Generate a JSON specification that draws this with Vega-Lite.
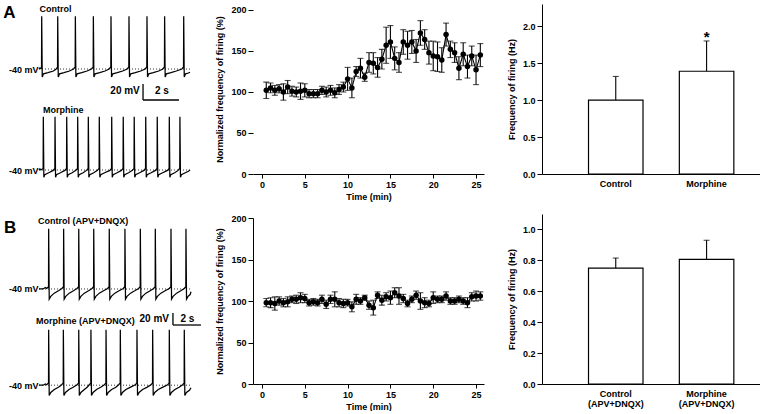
{
"$schema": "https://vega.github.io/schema/vega-lite/v6.json",
"background": "white",
"padding": {"left": 3, "top": 3, "right": 0, "bottom": 0},
"config": {
  "font": "Liberation Sans",
  "view": {"stroke": null},
  "axis": {"labelFont": "Liberation Sans", "labelFontSize": 9, "labelFontWeight": "bold", "labelColor": "black", "titleFont": "Liberation Sans", "titleFontSize": 9, "titleFontWeight": "bold", "titleColor": "black", "domainColor": "black", "tickColor": "black", "grid": false, "labelOverlap": false},
  "text": {"font": "Liberation Sans", "fontWeight": "bold", "fontSize": 9, "color": "black"}
},
"datasets": {
  "Ac": [
    {"t":0,"v":-40},{"t":0.05,"v":-38.5},{"t":0.1,"v":-39.5},{"t":0.14,"v":-38},
    {"t":0.15,"v":26},{"t":0.18,"v":-50},{"t":0.25,"v":-46},{"t":0.5,"v":-44.5},{"t":0.8,"v":-42.5},{"t":0.94,"v":-40.5},{"t":1.03,"v":-37.5},
    {"t":1.04,"v":26},{"t":1.07,"v":-50},{"t":1.14,"v":-46},{"t":1.39,"v":-44.5},{"t":1.69,"v":-42.5},{"t":1.92,"v":-40},{"t":2.01,"v":-37.5},
    {"t":2.02,"v":26},{"t":2.05,"v":-50},{"t":2.12,"v":-46},{"t":2.37,"v":-44.5},{"t":2.67,"v":-42.5},{"t":2.92,"v":-40},{"t":3.01,"v":-37.5},
    {"t":3.02,"v":26},{"t":3.05,"v":-50},{"t":3.12,"v":-46},{"t":3.37,"v":-44.5},{"t":3.67,"v":-42.5},{"t":3.9,"v":-40},{"t":3.99,"v":-37.5},
    {"t":4.0,"v":26},{"t":4.03,"v":-50},{"t":4.1,"v":-46},{"t":4.35,"v":-44.5},{"t":4.65,"v":-42.5},{"t":4.9,"v":-40},{"t":4.99,"v":-37.5},
    {"t":5.0,"v":26},{"t":5.03,"v":-50},{"t":5.1,"v":-46},{"t":5.35,"v":-44.5},{"t":5.65,"v":-42.5},{"t":5.9,"v":-40},{"t":5.99,"v":-37.5},
    {"t":6.0,"v":26},{"t":6.03,"v":-50},{"t":6.1,"v":-46},{"t":6.35,"v":-44.5},{"t":6.65,"v":-42.5},{"t":6.88,"v":-40},{"t":6.97,"v":-37.5},
    {"t":6.98,"v":26},{"t":7.01,"v":-50},{"t":7.08,"v":-46},{"t":7.33,"v":-44.5},{"t":7.63,"v":-42.5},{"t":7.94,"v":-40},{"t":8.03,"v":-37.5},
    {"t":8.04,"v":26},{"t":8.07,"v":-50},{"t":8.14,"v":-46},{"t":8.3,"v":-45},{"t":8.39,"v":-44}
  ],
  "Am": [
    {"t":0,"v":-40},{"t":0.05,"v":-38.5},{"t":0.1,"v":-40},{"t":0.23,"v":-38},
    {"t":0.24,"v":26.5},{"t":0.27,"v":-49},{"t":0.32,"v":-46},{"t":0.54,"v":-43.5},{"t":0.79,"v":-40.5},{"t":0.88,"v":-38},
    {"t":0.89,"v":26.5},{"t":0.92,"v":-49},{"t":0.97,"v":-46},{"t":1.19,"v":-43.5},{"t":1.44,"v":-40.5},{"t":1.53,"v":-38},
    {"t":1.54,"v":26.5},{"t":1.57,"v":-49},{"t":1.62,"v":-46},{"t":1.84,"v":-43.5},{"t":2.05,"v":-40.5},{"t":2.14,"v":-38},
    {"t":2.15,"v":26.5},{"t":2.18,"v":-49},{"t":2.23,"v":-46},{"t":2.45,"v":-43.5},{"t":2.64,"v":-40.5},{"t":2.73,"v":-38},
    {"t":2.74,"v":26.5},{"t":2.77,"v":-49},{"t":2.82,"v":-46},{"t":3.04,"v":-43.5},{"t":3.25,"v":-40.5},{"t":3.34,"v":-38},
    {"t":3.35,"v":26.5},{"t":3.38,"v":-49},{"t":3.43,"v":-46},{"t":3.65,"v":-43.5},{"t":3.94,"v":-40.5},{"t":4.03,"v":-38},
    {"t":4.04,"v":26.5},{"t":4.07,"v":-49},{"t":4.12,"v":-46},{"t":4.34,"v":-43.5},{"t":4.58,"v":-40.5},{"t":4.67,"v":-38},
    {"t":4.68,"v":26.5},{"t":4.71,"v":-49},{"t":4.76,"v":-46},{"t":4.98,"v":-43.5},{"t":5.19,"v":-40.5},{"t":5.28,"v":-38},
    {"t":5.29,"v":26.5},{"t":5.32,"v":-49},{"t":5.37,"v":-46},{"t":5.59,"v":-43.5},{"t":5.83,"v":-40.5},{"t":5.92,"v":-38},
    {"t":5.93,"v":26.5},{"t":5.96,"v":-49},{"t":6.01,"v":-46},{"t":6.23,"v":-43.5},{"t":6.47,"v":-40.5},{"t":6.56,"v":-38},
    {"t":6.57,"v":26.5},{"t":6.6,"v":-49},{"t":6.65,"v":-46},{"t":6.87,"v":-43.5},{"t":7.14,"v":-40.5},{"t":7.23,"v":-38},
    {"t":7.24,"v":26.5},{"t":7.27,"v":-49},{"t":7.32,"v":-46},{"t":7.54,"v":-43.5},{"t":7.73,"v":-40.5},{"t":7.82,"v":-38},
    {"t":7.83,"v":26.5},{"t":7.86,"v":-49},{"t":7.91,"v":-46},{"t":8.13,"v":-43.5},{"t":8.3,"v":-41.5},{"t":8.39,"v":-40}
  ],
  "Bc": [
    {"t":0,"v":-40},{"t":0.3,"v":-40},{"t":0.45,"v":-38.5},{"t":0.55,"v":-39.5},{"t":0.68,"v":-37.5},
    {"t":0.69,"v":25},{"t":0.73,"v":-51},{"t":0.84,"v":-48},{"t":1.09,"v":-44.5},{"t":1.39,"v":-42},{"t":1.64,"v":-39.5},{"t":1.75,"v":-37.5},
    {"t":1.76,"v":25},{"t":1.8,"v":-51},{"t":1.91,"v":-48},{"t":2.16,"v":-44.5},{"t":2.46,"v":-42},{"t":2.72,"v":-39.5},{"t":2.83,"v":-37.5},
    {"t":2.84,"v":25},{"t":2.88,"v":-51},{"t":2.99,"v":-48},{"t":3.24,"v":-44.5},{"t":3.54,"v":-42},{"t":3.79,"v":-39.5},{"t":3.9,"v":-37.5},
    {"t":3.91,"v":25},{"t":3.95,"v":-51},{"t":4.06,"v":-48},{"t":4.31,"v":-44.5},{"t":4.61,"v":-42},{"t":4.9,"v":-39.5},{"t":5.01,"v":-37.5},
    {"t":5.02,"v":25},{"t":5.06,"v":-51},{"t":5.17,"v":-48},{"t":5.42,"v":-44.5},{"t":5.72,"v":-42},{"t":6.02,"v":-39.5},{"t":6.13,"v":-37.5},
    {"t":6.14,"v":25},{"t":6.18,"v":-51},{"t":6.29,"v":-48},{"t":6.54,"v":-44.5},{"t":6.84,"v":-42},{"t":7.12,"v":-39.5},{"t":7.23,"v":-37.5},
    {"t":7.24,"v":25},{"t":7.28,"v":-51},{"t":7.39,"v":-48},{"t":7.64,"v":-44.5},{"t":7.94,"v":-42},{"t":8.19,"v":-39.5},{"t":8.3,"v":-37.5},
    {"t":8.31,"v":25},{"t":8.35,"v":-51},{"t":8.46,"v":-48},{"t":8.71,"v":-44.5},{"t":9.01,"v":-42},{"t":9.31,"v":-39.5},{"t":9.42,"v":-37.5},
    {"t":9.43,"v":25},{"t":9.47,"v":-51},{"t":9.58,"v":-48},{"t":9.83,"v":-44.5},{"t":10.13,"v":-42},{"t":10.38,"v":-39.5},{"t":10.49,"v":-37.5},
    {"t":10.5,"v":25},{"t":10.54,"v":-51},{"t":10.65,"v":-48},{"t":10.8,"v":-46},{"t":10.86,"v":-43}
  ],
  "Bm": [
    {"t":0,"v":-40},{"t":0.3,"v":-40},{"t":0.45,"v":-38.5},{"t":0.55,"v":-39.5},{"t":0.68,"v":-37.5},
    {"t":0.69,"v":25},{"t":0.73,"v":-52},{"t":0.84,"v":-48.5},{"t":1.09,"v":-45},{"t":1.39,"v":-42.5},{"t":1.62,"v":-39.5},{"t":1.73,"v":-37.5},
    {"t":1.74,"v":25},{"t":1.78,"v":-52},{"t":1.89,"v":-48.5},{"t":2.14,"v":-45},{"t":2.44,"v":-42.5},{"t":2.72,"v":-39.5},{"t":2.83,"v":-37.5},
    {"t":2.84,"v":25},{"t":2.88,"v":-52},{"t":2.99,"v":-48.5},{"t":3.24,"v":-45},{"t":3.44,"v":-42.5},{"t":3.59,"v":-39.5},{"t":3.7,"v":-37.5},
    {"t":3.71,"v":25},{"t":3.75,"v":-52},{"t":3.86,"v":-48.5},{"t":4.11,"v":-45},{"t":4.41,"v":-42.5},{"t":4.67,"v":-39.5},{"t":4.78,"v":-37.5},
    {"t":4.79,"v":25},{"t":4.83,"v":-52},{"t":4.94,"v":-48.5},{"t":5.19,"v":-45},{"t":5.49,"v":-42.5},{"t":5.69,"v":-39.5},{"t":5.8,"v":-37.5},
    {"t":5.81,"v":25},{"t":5.85,"v":-52},{"t":5.96,"v":-48.5},{"t":6.21,"v":-45},{"t":6.51,"v":-42.5},{"t":6.88,"v":-39.5},{"t":6.99,"v":-37.5},
    {"t":7.0,"v":25},{"t":7.04,"v":-52},{"t":7.15,"v":-48.5},{"t":7.4,"v":-45},{"t":7.7,"v":-42.5},{"t":8.0,"v":-39.5},{"t":8.11,"v":-37.5},
    {"t":8.12,"v":25},{"t":8.16,"v":-52},{"t":8.27,"v":-48.5},{"t":8.52,"v":-45},{"t":8.82,"v":-42.5},{"t":9.19,"v":-39.5},{"t":9.3,"v":-37.5},
    {"t":9.31,"v":25},{"t":9.35,"v":-52},{"t":9.46,"v":-48.5},{"t":9.71,"v":-45},{"t":10.01,"v":-42.5},{"t":10.26,"v":-39.5},{"t":10.37,"v":-37.5},
    {"t":10.38,"v":25},{"t":10.42,"v":-52},{"t":10.53,"v":-48.5},{"t":10.75,"v":-46},{"t":10.86,"v":-43}
  ],
  "timeA": [
    {"t":0.5,"m":102,"e":10},{"t":1.0,"m":105,"e":6},{"t":1.5,"m":102,"e":6},{"t":2.0,"m":104,"e":5},{"t":2.5,"m":100,"e":10},
    {"t":3.0,"m":106,"e":8},{"t":3.5,"m":101,"e":6},{"t":4.0,"m":100,"e":6},{"t":4.5,"m":101,"e":10},{"t":5.0,"m":102,"e":8},
    {"t":5.5,"m":98,"e":5},{"t":6.0,"m":98,"e":5},{"t":6.5,"m":98,"e":5},{"t":7.0,"m":102,"e":5},{"t":7.5,"m":100,"e":6},
    {"t":8.0,"m":102,"e":6},{"t":8.5,"m":99,"e":6},{"t":9.0,"m":103,"e":6},{"t":9.5,"m":106,"e":6},{"t":10.0,"m":116,"e":14},
    {"t":10.5,"m":105,"e":12},{"t":11.0,"m":125,"e":6},{"t":11.5,"m":129,"e":12},{"t":12.0,"m":118,"e":5},{"t":12.5,"m":136,"e":12},
    {"t":13.0,"m":135,"e":13},{"t":13.5,"m":130,"e":12},{"t":14.0,"m":140,"e":12},{"t":14.5,"m":157,"e":22},{"t":15.0,"m":161,"e":20},
    {"t":15.5,"m":141,"e":14},{"t":16.0,"m":136,"e":12},{"t":16.5,"m":161,"e":15},{"t":17.0,"m":157,"e":17},{"t":17.5,"m":161,"e":14},
    {"t":18.0,"m":150,"e":14},{"t":18.5,"m":172,"e":15},{"t":19.0,"m":164,"e":12},{"t":19.5,"m":148,"e":14},{"t":20.0,"m":144,"e":18},
    {"t":20.5,"m":143,"e":18},{"t":21.0,"m":139,"e":15},{"t":21.5,"m":170,"e":14},{"t":22.0,"m":152,"e":10},{"t":22.5,"m":148,"e":12},
    {"t":23.0,"m":129,"e":14},{"t":23.5,"m":146,"e":14},{"t":24.0,"m":131,"e":14},{"t":24.5,"m":144,"e":12},{"t":25.0,"m":127,"e":18},
    {"t":25.5,"m":145,"e":14}
  ],
  "timeB": [
    {"t":0.5,"m":98,"e":5},{"t":1.0,"m":98,"e":6},{"t":1.5,"m":97,"e":8},{"t":2.0,"m":100,"e":5},{"t":2.5,"m":98,"e":5},
    {"t":3.0,"m":99,"e":6},{"t":3.5,"m":102,"e":4},{"t":4.0,"m":102,"e":5},{"t":4.5,"m":104,"e":6},{"t":5.0,"m":103,"e":5},
    {"t":5.5,"m":98,"e":4},{"t":6.0,"m":99,"e":4},{"t":6.5,"m":98,"e":4},{"t":7.0,"m":102,"e":5},{"t":7.5,"m":96,"e":5},
    {"t":8.0,"m":102,"e":5},{"t":8.5,"m":102,"e":9},{"t":9.0,"m":98,"e":5},{"t":9.5,"m":97,"e":5},{"t":10.0,"m":98,"e":4},
    {"t":10.5,"m":93,"e":6},{"t":11.0,"m":102,"e":6},{"t":11.5,"m":100,"e":4},{"t":12.0,"m":104,"e":3},{"t":12.5,"m":95,"e":5},
    {"t":13.0,"m":92,"e":9},{"t":13.5,"m":107,"e":4},{"t":14.0,"m":101,"e":6},{"t":14.5,"m":105,"e":5},{"t":15.0,"m":104,"e":8},
    {"t":15.5,"m":110,"e":6},{"t":16.0,"m":106,"e":10},{"t":16.5,"m":103,"e":5},{"t":17.0,"m":97,"e":4},{"t":17.5,"m":102,"e":4},
    {"t":18.0,"m":107,"e":5},{"t":18.5,"m":100,"e":10},{"t":19.0,"m":98,"e":6},{"t":19.5,"m":97,"e":4},{"t":20.0,"m":104,"e":7},
    {"t":20.5,"m":102,"e":4},{"t":21.0,"m":102,"e":4},{"t":21.5,"m":106,"e":5},{"t":22.0,"m":100,"e":4},{"t":22.5,"m":100,"e":4},
    {"t":23.0,"m":102,"e":4},{"t":23.5,"m":100,"e":4},{"t":24.0,"m":98,"e":6},{"t":24.5,"m":105,"e":5},{"t":25.0,"m":106,"e":6},
    {"t":25.5,"m":106,"e":5}
  ],
  "barA": [{"g":"Control","m":1.0,"hi":1.32},{"g":"Morphine","m":1.39,"hi":1.8}],
  "barB": [{"g":"Control","m":0.75,"hi":0.815},{"g":"Morphine","m":0.807,"hi":0.93}]
},
"hconcat": [
  {
    "spacing": 13,
    "hconcat": [
      {
        "spacing": 36,
        "vconcat": [
          {
            "spacing": 37.4,
            "bounds": "flush",
            "vconcat": [
              {
                "width": 151, "height": 75,
                "layer": [
                  {"data": {"name": "Ac"}, "mark": {"type": "line", "color": "black", "strokeWidth": 1.25},
                   "encoding": {
                     "x": {"field": "t", "type": "quantitative", "scale": {"domain": [0, 8.39], "nice": false, "zero": false}, "axis": null},
                     "y": {"field": "v", "type": "quantitative", "scale": {"domain": [-52.5, 41.25], "nice": false, "zero": false},
                           "axis": {"values": [-40], "labelExpr": "'-40 mV'", "domain": false, "ticks": false, "labelPadding": 1, "title": null}}}},
                  {"data": {"values": [{}]}, "mark": {"type": "rule", "color": "black", "strokeWidth": 0.8, "strokeDash": [1, 2]},
                   "encoding": {"x": {"datum": 0}, "x2": {"datum": 8.39}, "y": {"datum": -40}}},
                  {"data": {"values": [{}]}, "mark": {"type": "text", "text": "A", "fontSize": 17, "align": "center", "baseline": "middle"},
                   "encoding": {"x": {"datum": -1.64}, "y": {"datum": 30.6}}},
                  {"data": {"values": [{}]}, "mark": {"type": "text", "text": "Control", "align": "left", "baseline": "middle"},
                   "encoding": {"x": {"datum": 0.03}, "y": {"datum": 35.6}}},
                  {"data": {"values": [{}]}, "mark": {"type": "rule", "color": "black", "strokeWidth": 1.3},
                   "encoding": {"x": {"datum": 5.78}, "y": {"datum": -58.75}, "y2": {"datum": -78.75}}},
                  {"data": {"values": [{}]}, "mark": {"type": "rule", "color": "black", "strokeWidth": 1.3},
                   "encoding": {"x": {"datum": 5.78}, "x2": {"datum": 7.78}, "y": {"datum": -78.75}}},
                  {"data": {"values": [{}]}, "mark": {"type": "text", "text": "20 mV", "align": "right", "baseline": "middle", "fontSize": 10},
                   "encoding": {"x": {"datum": 5.6}, "y": {"datum": -67.5}}},
                  {"data": {"values": [{}]}, "mark": {"type": "text", "text": "2 s", "align": "center", "baseline": "middle", "fontSize": 10},
                   "encoding": {"x": {"datum": 6.83}, "y": {"datum": -67.5}}}
                ]
              },
              {
                "width": 151, "height": 63,
                "layer": [
                  {"data": {"name": "Am"}, "mark": {"type": "line", "color": "black", "strokeWidth": 1.25},
                   "encoding": {
                     "x": {"field": "t", "type": "quantitative", "scale": {"domain": [0, 8.39], "nice": false, "zero": false}, "axis": null},
                     "y": {"field": "v", "type": "quantitative", "scale": {"domain": [-51.75, 27], "nice": false, "zero": false},
                           "axis": {"values": [-40], "labelExpr": "'-40 mV'", "domain": false, "ticks": false, "labelPadding": 1, "title": null}}}},
                  {"data": {"values": [{}]}, "mark": {"type": "rule", "color": "black", "strokeWidth": 0.8, "strokeDash": [1, 2]},
                   "encoding": {"x": {"datum": 0}, "x2": {"datum": 8.39}, "y": {"datum": -40}}},
                  {"data": {"values": [{}]}, "mark": {"type": "text", "text": "Morphine", "align": "left", "baseline": "middle"},
                   "encoding": {"x": {"datum": 0.22}, "y": {"datum": 35.6}}}
                ]
              }
            ]
          },
          {
            "spacing": 27,
            "bounds": "flush",
            "vconcat": [
              {
                "width": 152, "height": 74,
                "layer": [
                  {"data": {"name": "Bc"}, "mark": {"type": "line", "color": "black", "strokeWidth": 1.25},
                   "encoding": {
                     "x": {"field": "t", "type": "quantitative", "scale": {"domain": [0, 10.86], "nice": false, "zero": false}, "axis": null},
                     "y": {"field": "v", "type": "quantitative", "scale": {"domain": [-53, 27], "nice": false, "zero": false},
                           "axis": {"values": [-40], "labelExpr": "'-40 mV'", "domain": false, "ticks": false, "labelPadding": 1, "title": null}}}},
                  {"data": {"values": [{}]}, "mark": {"type": "rule", "color": "black", "strokeWidth": 0.8, "strokeDash": [1, 2]},
                   "encoding": {"x": {"datum": 0}, "x2": {"datum": 10.86}, "y": {"datum": -40}}},
                  {"data": {"values": [{}]}, "mark": {"type": "text", "text": "B", "fontSize": 17, "align": "center", "baseline": "middle"},
                   "encoding": {"x": {"datum": -2.07}, "y": {"datum": 25.8}}},
                  {"data": {"values": [{}]}, "mark": {"type": "text", "text": "Control (APV+DNQX)", "align": "left", "baseline": "middle"},
                   "encoding": {"x": {"datum": -0.07}, "y": {"datum": 33.9}}}
                ]
              },
              {
                "width": 152, "height": 70,
                "layer": [
                  {"data": {"name": "Bm"}, "mark": {"type": "line", "color": "black", "strokeWidth": 1.25},
                   "encoding": {
                     "x": {"field": "t", "type": "quantitative", "scale": {"domain": [0, 10.86], "nice": false, "zero": false}, "axis": null},
                     "y": {"field": "v", "type": "quantitative", "scale": {"domain": [-55, 27], "nice": false, "zero": false},
                           "axis": {"values": [-40], "labelExpr": "'-40 mV'", "domain": false, "ticks": false, "labelPadding": 1, "title": null}}}},
                  {"data": {"values": [{}]}, "mark": {"type": "rule", "color": "black", "strokeWidth": 0.8, "strokeDash": [1, 2]},
                   "encoding": {"x": {"datum": 0}, "x2": {"datum": 10.86}, "y": {"datum": -40}}},
                  {"data": {"values": [{}]}, "mark": {"type": "text", "text": "Morphine (APV+DNQX)", "align": "left", "baseline": "middle"},
                   "encoding": {"x": {"datum": -0.21}, "y": {"datum": 35.2}}},
                  {"data": {"values": [{}]}, "mark": {"type": "rule", "color": "black", "strokeWidth": 1.3},
                   "encoding": {"x": {"datum": 9.57}, "y": {"datum": 44.6}, "y2": {"datum": 30.5}}},
                  {"data": {"values": [{}]}, "mark": {"type": "rule", "color": "black", "strokeWidth": 1.3},
                   "encoding": {"x": {"datum": 9.57}, "x2": {"datum": 11.57}, "y": {"datum": 30.5}}},
                  {"data": {"values": [{}]}, "mark": {"type": "text", "text": "20 mV", "align": "right", "baseline": "middle", "fontSize": 10},
                   "encoding": {"x": {"datum": 9.29}, "y": {"datum": 37.5}}},
                  {"data": {"values": [{}]}, "mark": {"type": "text", "text": "2 s", "align": "center", "baseline": "middle", "fontSize": 10},
                   "encoding": {"x": {"datum": 10.6}, "y": {"datum": 37.5}}}
                ]
              }
            ]
          }
        ]
      },
      {
        "spacing": 44,
        "bounds": "flush",
        "vconcat": [
          {
            "width": 231, "height": 170,
            "encoding": {
              "x": {"field": "t", "type": "quantitative", "scale": {"domain": [-1.05, 25.93], "nice": false, "zero": false},
                    "axis": {"values": [0, 5, 10, 15, 20, 25], "title": "Time (min)", "tickSize": 4, "labelPadding": 2, "titlePadding": 3}},
              "y": {"field": "m", "type": "quantitative", "scale": {"domain": [0, 207.3], "nice": false},
                    "title": "Normalized frequency of firing (%)",
                    "axis": {"values": [0, 50, 100, 150, 200], "tickSize": 5, "labelPadding": 2, "titlePadding": 6, "domain": false}}
            },
            "layer": [
              {"data": {"values": [{}]}, "mark": {"type": "rule", "color": "black", "strokeWidth": 1},
               "encoding": {"x": {"datum": -1.05}, "y": {"datum": 0}, "y2": {"datum": 200}}},
              {"data": {"name": "timeA"}, "mark": {"type": "errorbar", "ticks": {"size": 6}, "color": "black", "thickness": 1.1},
               "encoding": {"yError": {"field": "e"}}},
              {"data": {"name": "timeA"}, "mark": {"type": "line", "color": "black", "strokeWidth": 1.1}},
              {"data": {"name": "timeA"}, "mark": {"type": "point", "filled": true, "color": "black", "size": 30, "opacity": 1}},
              {"data": {"values": [{}]}, "mark": {"type": "rule", "color": "black", "strokeWidth": 1.5},
               "encoding": {"x": {"datum": 5}, "x2": {"datum": 25.5}, "y": {"datum": 80}}},
              {"data": {"values": [{}]}, "mark": {"type": "text", "text": "Morphine", "align": "center", "baseline": "middle"},
               "encoding": {"x": {"datum": 13.3}, "y": {"datum": 67}}}
            ]
          },
          {
            "width": 231, "height": 166,
            "encoding": {
              "x": {"field": "t", "type": "quantitative", "scale": {"domain": [-1.05, 25.93], "nice": false, "zero": false},
                    "axis": {"values": [0, 5, 10, 15, 20, 25], "title": "Time (min)", "tickSize": 4, "labelPadding": 2, "titlePadding": 3}},
              "y": {"field": "m", "type": "quantitative", "scale": {"domain": [0, 200], "nice": false},
                    "title": "Normalized frequency of firing (%)",
                    "axis": {"values": [0, 50, 100, 150, 200], "tickSize": 5, "labelPadding": 2, "titlePadding": 6}}
            },
            "layer": [
              {"data": {"name": "timeB"}, "mark": {"type": "errorbar", "ticks": {"size": 6}, "color": "black", "thickness": 1.1},
               "encoding": {"yError": {"field": "e"}}},
              {"data": {"name": "timeB"}, "mark": {"type": "line", "color": "black", "strokeWidth": 1.1}},
              {"data": {"name": "timeB"}, "mark": {"type": "point", "filled": true, "color": "black", "size": 30, "opacity": 1}},
              {"data": {"values": [{}]}, "mark": {"type": "rule", "color": "black", "strokeWidth": 1.5},
               "encoding": {"x": {"datum": 5}, "x2": {"datum": 25.5}, "y": {"datum": 150}}},
              {"data": {"values": [{}]}, "mark": {"type": "text", "text": "Morphine", "align": "center", "baseline": "middle"},
               "encoding": {"x": {"datum": 14.1}, "y": {"datum": 160}}},
              {"data": {"values": [{}]}, "mark": {"type": "rule", "color": "black", "strokeWidth": 1.5},
               "encoding": {"x": {"datum": 0.7}, "x2": {"datum": 25.8}, "y": {"datum": 125}}},
              {"data": {"values": [{}]}, "mark": {"type": "text", "text": "APV + DNQX", "align": "center", "baseline": "middle"},
               "encoding": {"x": {"datum": 11.8}, "y": {"datum": 136}}}
            ]
          }
        ]
      }
    ]
  },
  {
    "spacing": 40,
    "bounds": "flush",
    "vconcat": [
      {
        "width": 218, "height": 170,
        "encoding": {
          "x": {"field": "g", "type": "nominal", "sort": ["Control", "Morphine"], "scale": {"paddingInner": 0.4, "paddingOuter": 0.4, "align": 0.64},
                "axis": {"title": null, "ticks": false, "labelAngle": 0, "labelPadding": 5}}
        },
        "layer": [
          {"data": {"name": "barA"}, "mark": {"type": "rule", "color": "black", "strokeWidth": 1.1},
           "encoding": {"y": {"field": "m", "type": "quantitative", "title": "Frequency of firing (Hz)", "scale": {"domain": [0, 2.3], "nice": false},
                              "axis": {"values": [0, 0.5, 1, 1.5, 2], "format": ".1f", "tickSize": 5, "labelPadding": 2, "titlePadding": 6}}, "y2": {"field": "hi"}}},
          {"data": {"name": "barA"}, "mark": {"type": "tick", "color": "black", "size": 6, "thickness": 1.1},
           "encoding": {"y": {"field": "hi", "type": "quantitative", "title": "Frequency of firing (Hz)",
                              "axis": {"values": [0, 0.5, 1, 1.5, 2], "format": ".1f", "tickSize": 5, "labelPadding": 2, "titlePadding": 6}}}},
          {"data": {"name": "barA"}, "mark": {"type": "bar", "fill": "white", "stroke": "black", "strokeWidth": 1.2},
           "encoding": {"y": {"field": "m", "type": "quantitative", "title": "Frequency of firing (Hz)",
                              "axis": {"values": [0, 0.5, 1, 1.5, 2], "format": ".1f", "tickSize": 5, "labelPadding": 2, "titlePadding": 6}}}},
          {"data": {"values": [{"g": "Morphine"}]}, "mark": {"type": "text", "text": "*", "fontSize": 15, "align": "center", "baseline": "middle"},
           "encoding": {"y": {"datum": 1.86}}}
        ]
      },
      {
        "width": 218, "height": 170,
        "encoding": {
          "x": {"field": "g", "type": "nominal", "sort": ["Control", "Morphine"], "scale": {"paddingInner": 0.4, "paddingOuter": 0.4, "align": 0.64},
                "axis": {"title": null, "ticks": false, "labelAngle": 0, "labelPadding": 5, "labelLineHeight": 10, "labelExpr": "[datum.value, '(APV+DNQX)']"}}
        },
        "layer": [
          {"data": {"name": "barB"}, "mark": {"type": "rule", "color": "black", "strokeWidth": 1.1},
           "encoding": {"y": {"field": "m", "type": "quantitative", "title": "Frequency of firing (Hz)", "scale": {"domain": [0, 1.1], "nice": false},
                              "axis": {"values": [0, 0.2, 0.4, 0.6, 0.8, 1.0], "format": ".1f", "tickSize": 5, "labelPadding": 2, "titlePadding": 6}}, "y2": {"field": "hi"}}},
          {"data": {"name": "barB"}, "mark": {"type": "tick", "color": "black", "size": 6, "thickness": 1.1},
           "encoding": {"y": {"field": "hi", "type": "quantitative", "title": "Frequency of firing (Hz)",
                              "axis": {"values": [0, 0.2, 0.4, 0.6, 0.8, 1.0], "format": ".1f", "tickSize": 5, "labelPadding": 2, "titlePadding": 6}}}},
          {"data": {"name": "barB"}, "mark": {"type": "bar", "fill": "white", "stroke": "black", "strokeWidth": 1.2},
           "encoding": {"y": {"field": "m", "type": "quantitative", "title": "Frequency of firing (Hz)",
                              "axis": {"values": [0, 0.2, 0.4, 0.6, 0.8, 1.0], "format": ".1f", "tickSize": 5, "labelPadding": 2, "titlePadding": 6}}}}
        ]
      }
    ]
  }
],
"spacing": 23
}
